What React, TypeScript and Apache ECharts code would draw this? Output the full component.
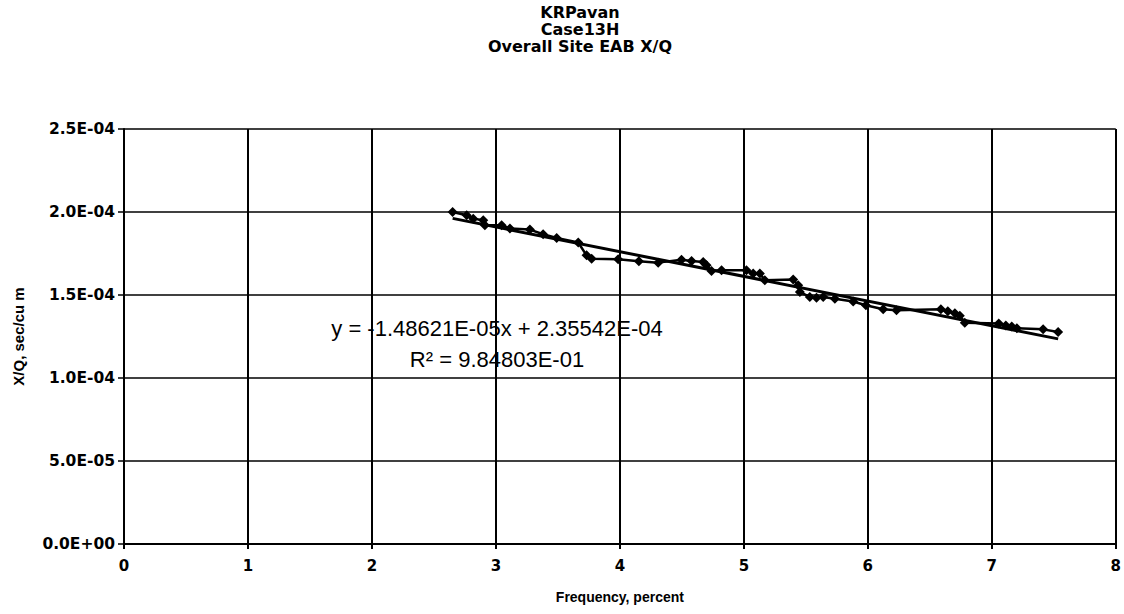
import React, { useEffect, useRef } from "react";
import * as echarts from "echarts";

const titleLines = ["KRPavan", "Case13H", "Overall Site EAB X/Q"];
const xAxisName = "Frequency, percent";
const yAxisName = "X/Q, sec/cu m";

// Frequency (percent)
const freq = [
  2.651, 2.764, 2.817, 2.898, 2.911, 3.046, 3.113, 3.274, 3.381, 3.49,
  3.664, 3.731, 3.772, 3.986, 4.153, 4.309, 4.497, 4.578, 4.672, 4.699,
  4.739, 4.82, 5.021, 5.075, 5.129, 5.169, 5.398, 5.438, 5.452, 5.532,
  5.586, 5.64, 5.734, 5.882, 5.984, 6.124, 6.231, 6.589, 6.645, 6.702,
  6.742, 6.782, 7.056, 7.113, 7.161, 7.202, 7.414, 7.535,
];
// X/Q (sec/cu m)
const xq = [
  2.0e-4, 1.98e-4, 1.96e-4, 1.95e-4, 1.92e-4, 1.92e-4, 1.9e-4, 1.894e-4, 1.866e-4, 1.843e-4,
  1.816e-4, 1.739e-4, 1.719e-4, 1.715e-4, 1.703e-4, 1.695e-4, 1.713e-4, 1.705e-4, 1.699e-4, 1.679e-4,
  1.645e-4, 1.649e-4, 1.649e-4, 1.629e-4, 1.629e-4, 1.589e-4, 1.593e-4, 1.558e-4, 1.518e-4, 1.488e-4,
  1.483e-4, 1.488e-4, 1.478e-4, 1.461e-4, 1.438e-4, 1.414e-4, 1.408e-4, 1.414e-4, 1.402e-4, 1.39e-4,
  1.375e-4, 1.333e-4, 1.328e-4, 1.317e-4, 1.31e-4, 1.299e-4, 1.293e-4, 1.277e-4,
];

// Linear trendline shown on the chart
const trendSlope = -1.48621e-5;
const trendIntercept = 2.35542e-4;
const trendR2 = 9.84803e-1;

function sci(v: number, digits: number): string {
  if (v === 0) return (0).toFixed(digits) + "E+00";
  const e = Math.floor(Math.log10(Math.abs(v)) + 1e-9);
  const m = v / Math.pow(10, e);
  return m.toFixed(digits) + "E" + (e < 0 ? "-" : "+") + String(Math.abs(e)).padStart(2, "0");
}

export default function App() {
  const ref = useRef<HTMLDivElement>(null);
  useEffect(() => {
    if (!ref.current) return;
    const chart = echarts.init(ref.current, undefined, { renderer: "svg" });
    const data = freq.map((f, i) => [f, xq[i]]);
    const x0 = Math.min(...freq);
    const x1 = Math.max(...freq);
    const trend = [
      [x0, trendSlope * x0 + trendIntercept],
      [x1, trendSlope * x1 + trendIntercept],
    ];
    const eqText = "y = " + sci(trendSlope, 5) + "x + " + sci(trendIntercept, 5);
    const r2Text = "R\u00B2 = " + sci(trendR2, 5);
    const font = "Liberation Sans, Arial, sans-serif";
    const wide = "DejaVu Sans, sans-serif";
    chart.setOption({
      animation: false,
      backgroundColor: "#ffffff",
      grid: { left: 124, right: 8, top: 129, bottom: 70, containLabel: false },
      graphic: [
        {
          type: "text",
          x: 580,
          y: 4,
          style: {
            text: titleLines.join("\n"),
            font: "bold 16px " + wide,
            lineHeight: 17,
            textAlign: "center",
            fill: "#000",
          },
        },
        {
          type: "text",
          x: 497,
          y: 328,
          style: {
            text: eqText,
            font: "22px " + font,
            textAlign: "center",
            textVerticalAlign: "middle",
            fill: "#000",
          },
        },
        {
          type: "text",
          x: 497,
          y: 359,
          style: {
            text: r2Text,
            font: "22px " + font,
            textAlign: "center",
            textVerticalAlign: "middle",
            fill: "#000",
          },
        },
      ],
      xAxis: {
        type: "value",
        min: 0,
        max: 8,
        interval: 1,
        name: xAxisName,
        nameLocation: "middle",
        nameGap: 46,
        nameTextStyle: { fontFamily: font, fontWeight: "bold", fontSize: 14, color: "#000" },
        axisLine: { lineStyle: { color: "#000", width: 2 } },
        axisTick: { show: true, inside: false, length: 5, lineStyle: { color: "#000", width: 2 } },
        axisLabel: { fontFamily: wide, fontWeight: "bold", fontSize: 15, color: "#000", margin: 14 },
        splitLine: { show: true, lineStyle: { color: "#000", width: 2 } },
      },
      yAxis: {
        type: "value",
        min: 0,
        max: 2.5e-4,
        interval: 5e-5,
        name: yAxisName,
        nameLocation: "middle",
        nameGap: 98,
        nameRotate: 90,
        nameTextStyle: { fontFamily: font, fontWeight: "bold", fontSize: 15, color: "#000" },
        axisLine: { lineStyle: { color: "#000", width: 2 } },
        axisTick: { show: true, inside: false, length: 6, lineStyle: { color: "#000", width: 1.5 } },
        axisLabel: {
          fontFamily: wide,
          fontWeight: "bold",
          fontSize: 15.5,
          color: "#000",
          margin: 9,
          formatter: (v: number) => sci(v, 1),
        },
        splitLine: { show: true, lineStyle: { color: "#000", width: 1.5 } },
      },
      series: [
        {
          type: "line",
          data: data,
          symbol: "diamond",
          symbolSize: 10,
          showSymbol: true,
          lineStyle: { color: "#000", width: 2.5 },
          itemStyle: { color: "#000" },
          z: 3,
        },
        {
          type: "line",
          data: trend,
          symbol: "none",
          lineStyle: { color: "#000", width: 3 },
          z: 2,
        },
      ],
    });
    return () => chart.dispose();
  }, []);
  return (
    <div
      ref={ref}
      style={{ position: "fixed", left: 0, top: 0, width: 1124, height: 614 }}
    />
  );
}
